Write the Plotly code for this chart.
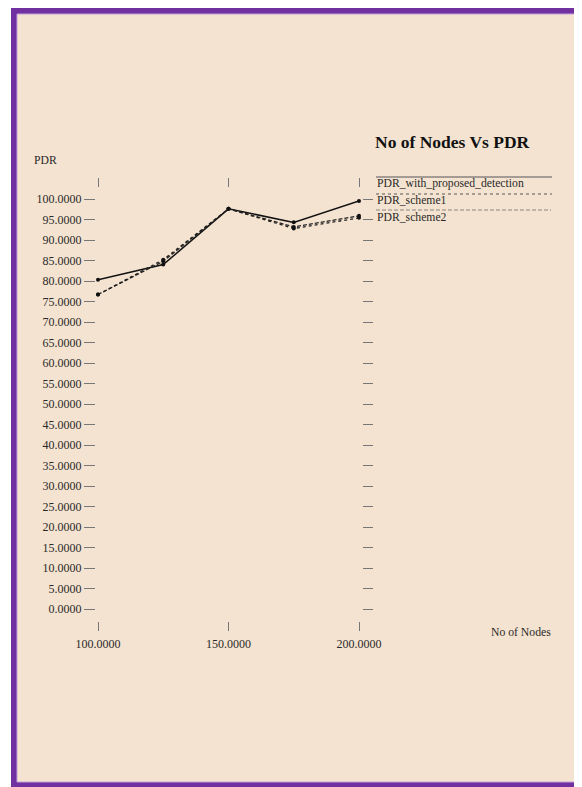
import plotly.graph_objects as go

# ---- data ----
nodes = [100, 125, 150, 175, 200]
pdr_proposed = [80.3, 84.0, 97.6, 94.3, 99.5]
pdr_scheme1 = [76.7, 85.2, 97.6, 92.8, 95.4]
pdr_scheme2 = [76.7, 84.8, 97.6, 93.2, 95.9]
series_names = ["PDR_with_proposed_detection", "PDR_scheme1", "PDR_scheme2"]
x_ticks = [100, 150, 200]
y_ticks = list(range(0, 101, 5))

OFF = 8  # page body margin
W, H = 582 - OFF, 787 - OFF
# paper area in screen pixels
PX0, PX1 = 80, 380
PY0, PY1 = 170, 640  # top, bottom


def px(x):
    return (x - PX0) / (PX1 - PX0)


def py(y):
    return (PY1 - y) / (PY1 - PY0)


FONT = "Liberation Serif, Times New Roman, DejaVu Serif, serif"
BG = "#F4E3D0"
PURPLE = "#7030A0"
TICKC = "#777777"
TXT = "#2a2a2a"

fig = go.Figure()

styles = [
    dict(color="#111111", width=1.5, dash="solid"),
    dict(color="#222222", width=1.3, dash="dot"),
    dict(color="#222222", width=1.3, dash="4px,2px"),
]
for name, vals, st in zip(series_names, [pdr_proposed, pdr_scheme1, pdr_scheme2], styles):
    fig.add_trace(go.Scatter(
        x=nodes, y=vals, name=name, mode="lines+markers",
        line=st, marker=dict(size=4, color="#111111"),
        showlegend=False, cliponaxis=False,
    ))

# empty trace to materialise secondary axes (top / right tick marks)
fig.add_trace(go.Scatter(x=[], y=[], xaxis="x2", yaxis="y2", showlegend=False, hoverinfo="skip"))

xdom = [px(98), px(359)]
ydom = [py(609), py(199)]

fig.update_layout(
    width=W, height=H,
    margin=dict(l=PX0 - OFF, r=W - (PX1 - OFF), t=PY0 - OFF, b=H - (PY1 - OFF), pad=0),
    paper_bgcolor="white",
    plot_bgcolor="rgba(0,0,0,0)",
    font=dict(family=FONT, size=12, color=TXT),
    xaxis=dict(
        domain=xdom, range=[100, 200], anchor="free", position=py(621),
        tickvals=x_ticks, tickformat=".4f", ticks="outside", ticklen=9,
        tickwidth=1, tickcolor=TICKC, showgrid=False, zeroline=False,
        showline=False, tickfont=dict(family=FONT, size=12, color=TXT),
        ticklabelstandoff=3,
    ),
    yaxis=dict(
        domain=ydom, range=[0, 100], anchor="free", position=px(95),
        tickvals=y_ticks, tickformat=".4f", ticks="outside", ticklen=11,
        tickwidth=1, tickcolor=TICKC, showgrid=False, zeroline=False,
        showline=False, tickfont=dict(family=FONT, size=12, color=TXT),
    ),
    xaxis2=dict(
        overlaying="x", side="top", range=[100, 200], anchor="free",
        position=py(187), tickvals=x_ticks, ticks="outside", ticklen=9,
        tickwidth=1, tickcolor=TICKC, showticklabels=False, showgrid=False,
        zeroline=False, showline=False,
    ),
    yaxis2=dict(
        overlaying="y", side="right", range=[0, 100], anchor="free",
        position=px(362), tickvals=y_ticks, ticks="outside", ticklen=10,
        tickwidth=1, tickcolor=TICKC, showticklabels=False, showgrid=False,
        zeroline=False, showline=False,
    ),
)

shapes = [
    # purple frame
    dict(type="rect", xref="paper", yref="paper", x0=px(11), x1=px(590), y0=py(0), y1=py(795),
         fillcolor=PURPLE, line=dict(width=0), layer="below"),
    dict(type="rect", xref="paper", yref="paper", x0=px(17), x1=px(577), y0=py(14), y1=py(782),
         fillcolor=BG, line=dict(width=1, color="#C4A0D8"), layer="below"),
    # legend lines
    dict(type="line", xref="paper", yref="paper", x0=px(376), x1=px(552), y0=py(177), y1=py(177),
         line=dict(color="#8a8580", width=1.5)),
    dict(type="line", xref="paper", yref="paper", x0=px(376), x1=px(552), y0=py(194), y1=py(194),
         line=dict(color="#8a8580", width=1.3, dash="dot")),
    dict(type="line", xref="paper", yref="paper", x0=px(376), x1=px(551), y0=py(210), y1=py(210),
         line=dict(color="#8a8580", width=1.2, dash="4px,2px")),
]
fig.update_layout(shapes=shapes)

ann = []
ann.append(dict(text="<b>No of Nodes Vs PDR</b>", x=px(373), y=py(142), xref="paper", yref="paper",
                xanchor="left", yanchor="middle", showarrow=False,
                font=dict(family=FONT, size=17.5, color="#111111")))
for name, yy in zip(series_names, [183, 200, 217]):
    ann.append(dict(text=name, x=px(375), y=py(yy), xref="paper", yref="paper",
                    xanchor="left", yanchor="middle", showarrow=False,
                    font=dict(family=FONT, size=11.7, color=TXT)))
ann.append(dict(text="PDR", x=px(32), y=py(160), xref="paper", yref="paper",
                xanchor="left", yanchor="middle", showarrow=False,
                font=dict(family=FONT, size=11.7, color=TXT)))
ann.append(dict(text="No of Nodes", x=px(489), y=py(632), xref="paper", yref="paper",
                xanchor="left", yanchor="middle", showarrow=False,
                font=dict(family=FONT, size=11.7, color=TXT)))
fig.update_layout(annotations=ann)

fig.write_html("out.html")
